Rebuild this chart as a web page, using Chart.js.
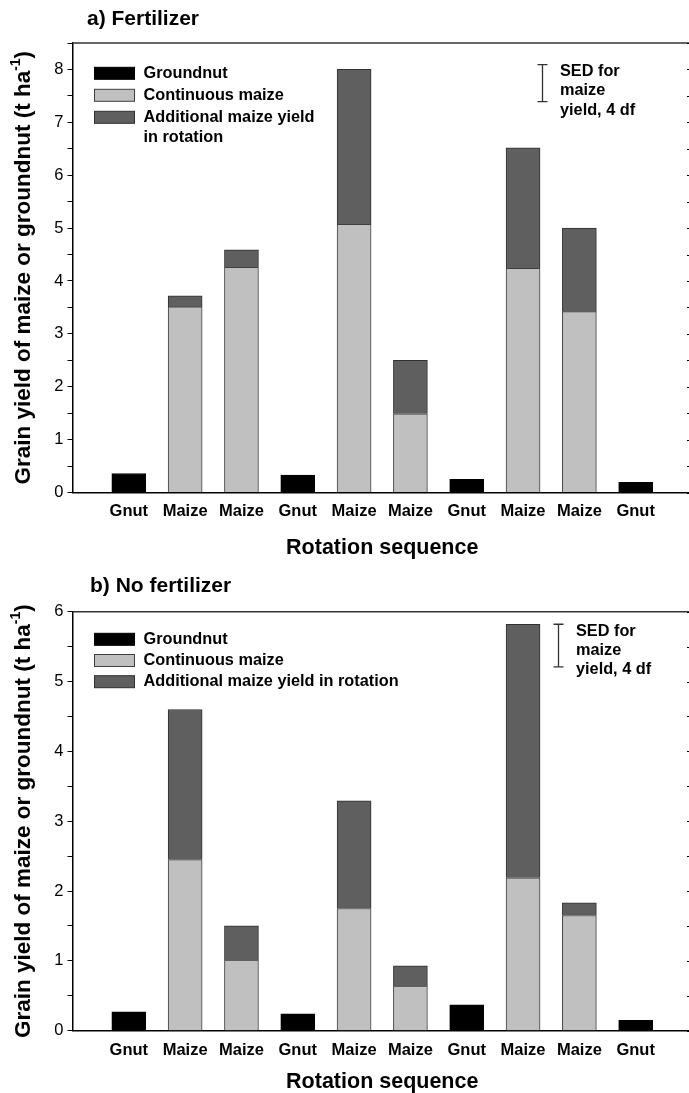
<!DOCTYPE html>
<html>
<head>
<meta charset="utf-8">
<title>Grain yield of maize or groundnut – rotation sequence</title>
<script src="https://cdn.jsdelivr.net/npm/chart.js@4.4.1/dist/chart.umd.min.js"></script>
<style>
  html, body { margin: 0; padding: 0; background: #fff; overflow: hidden; }
  #page { position: relative; width: 689px; height: 1093px; overflow: hidden; }
  canvas { position: absolute; left: 0; display: block; }
  #chartA { top: 0; }
  #chartB { top: 565px; }
</style>
</head>
<body>
<div id="page">
  <canvas id="chartA" width="695" height="565"></canvas>
  <canvas id="chartB" width="695" height="528"></canvas>
</div>
<script>
// Rotation sequence (x axis), one bar per season
const sequence = ['Gnut', 'Maize', 'Maize', 'Gnut', 'Maize', 'Maize', 'Gnut', 'Maize', 'Maize', 'Gnut'];
const legendLabels = ['Groundnut', 'Continuous maize', 'Additional maize yield in rotation'];
const sedLines = ['SED for', 'maize', 'yield, 4 df'];

// a) Fertilizer – grain yield, t ha-1
const fertGroundnut  = [0.36, null, null, 0.33, null, null, 0.25, null, null, 0.19];
const fertContinuous = [null, 3.51, 4.26, null, 5.07, 1.49, null, 4.24, 3.42, null];
const fertAdditional = [null, 0.21, 0.33, null, 2.93, 1.01, null, 2.28, 1.58, null];
const fertSED = 0.70;

// b) No fertilizer – grain yield, t ha-1
const noFertGroundnut  = [0.27, null, null, 0.24, null, null, 0.37, null, null, 0.15];
const noFertContinuous = [null, 2.45, 1.01, null, 1.75, 0.64, null, 2.19, 1.65, null];
const noFertAdditional = [null, 2.15, 0.49, null, 1.54, 0.29, null, 3.63, 0.18, null];
const noFertSED = 0.61;

const FONT = "'Liberation Sans', Arial, Helvetica, sans-serif";
Chart.defaults.font.family = FONT;
Chart.defaults.color = '#000';

function wrapText(ctx, text, maxWidth) {
  const words = text.split(' ');
  const lines = [];
  let cur = '';
  words.forEach(w => {
    const test = cur ? cur + ' ' + w : w;
    if (ctx.measureText(test).width > maxWidth && cur) { lines.push(cur); cur = w; }
    else cur = test;
  });
  if (cur) lines.push(cur);
  return lines;
}

// frame, right ticks, panel title, legend, SED bar and y title
const panelDeco = {
  id: 'panelDeco',
  afterDraw(chart, args, o) {
    const { ctx, chartArea: a, scales: { x, y } } = chart;
    ctx.save();

    // top frame line
    ctx.strokeStyle = '#333';
    ctx.lineWidth = 1.5;
    ctx.beginPath(); ctx.moveTo(a.left, a.top); ctx.lineTo(a.right, a.top); ctx.stroke();

    // inward ticks on the right side
    ctx.strokeStyle = '#000';
    ctx.lineWidth = 1;
    y.ticks.forEach(t => {
      const py = Math.round(y.getPixelForValue(t.value)) + 0.5;
      ctx.beginPath(); ctx.moveTo(a.right - 5, py); ctx.lineTo(a.right, py); ctx.stroke();
    });

    ctx.fillStyle = '#000';
    ctx.textBaseline = 'middle';
    ctx.textAlign = 'left';

    // panel title
    ctx.font = `bold 21px ${FONT}`;
    ctx.fillText(o.title, o.titleX, o.titleY);

    // legend inside plot area
    ctx.font = `bold 16.3px ${FONT}`;
    let rowY = o.legendY;
    chart.data.datasets.forEach(ds => {
      ctx.fillStyle = ds.backgroundColor;
      ctx.fillRect(94.5, rowY - 6, 40, 12);
      ctx.strokeStyle = ds.borderColor;
      ctx.lineWidth = 1;
      ctx.strokeRect(94.5, rowY - 6, 40, 12);
      ctx.fillStyle = '#000';
      const lines = wrapText(ctx, ds.label, o.legendWrap);
      lines.forEach((ln, i) => ctx.fillText(ln, 143.5, rowY + i * 20));
      rowY += o.legendStep + (lines.length - 1) * 20;
    });

    // SED bar
    const sx = Math.round(x.getPixelForValue(o.sedX)) + 0.5;
    const yTop = y.getPixelForValue(o.sedTop);
    const yBot = y.getPixelForValue(o.sedTop - o.sed);
    ctx.strokeStyle = '#333';
    ctx.lineWidth = 1.3;
    ctx.beginPath();
    ctx.moveTo(sx, yTop); ctx.lineTo(sx, yBot);
    ctx.moveTo(sx - 5, yTop); ctx.lineTo(sx + 5, yTop);
    ctx.moveTo(sx - 5, yBot); ctx.lineTo(sx + 5, yBot);
    ctx.stroke();
    ctx.font = `bold 16.3px ${FONT}`;
    sedLines.forEach((ln, i) => ctx.fillText(ln, sx + 17.5, yTop + 7 + i * 19.3));

    // rotated y axis title with superscript
    const main = 'Grain yield of maize or groundnut (t ha';
    const sup = '-1';
    const tail = ')';
    ctx.font = `bold 22.5px ${FONT}`;
    const w1 = ctx.measureText(main).width;
    const w3 = ctx.measureText(tail).width;
    ctx.font = `bold 14px ${FONT}`;
    const w2 = ctx.measureText(sup).width;
    const total = w1 + w2 + w3;
    ctx.translate(24, (a.top + a.bottom) / 2);
    ctx.rotate(-Math.PI / 2);
    const x0 = -total / 2;
    ctx.font = `bold 22.5px ${FONT}`;
    ctx.fillText(main, x0, 0);
    ctx.font = `bold 14px ${FONT}`;
    ctx.fillText(sup, x0 + w1, -7.5);
    ctx.font = `bold 22.5px ${FONT}`;
    ctx.fillText(tail, x0 + w1 + w2, 0);

    ctx.restore();
  }
};

function points(arr) {
  return arr.map((v, i) => ({ x: i + 1, y: v })).filter(p => p.y !== null);
}

function makeChart(id, groundnut, continuous, additional, yMax, deco) {
  return new Chart(document.getElementById(id), {
    type: 'bar',
    data: {
      datasets: [
        { label: legendLabels[0], data: points(groundnut), backgroundColor: '#000000', borderColor: '#000000' },
        { label: legendLabels[1], data: points(continuous), backgroundColor: '#c0c0c0', borderColor: '#404040' },
        { label: legendLabels[2], data: points(additional), backgroundColor: '#5f5f5f', borderColor: '#303030' }
      ]
    },
    options: {
      responsive: false,
      animation: false,
      devicePixelRatio: 1,
      datasets: { bar: { barThickness: 34, borderWidth: 1 } },
      layout: { padding: { top: deco.areaTop, right: 3, left: 0, bottom: 0 } },
      plugins: {
        legend: { display: false },
        tooltip: { enabled: false },
        panelDeco: deco
      },
      scales: {
        x: {
          type: 'linear',
          stacked: true,
          offset: false,
          min: 0,
          max: sequence.length + 1,
          afterFit: s => { s.height = deco.xAxisHeight; s.paddingLeft = 0; s.paddingRight = 0; },
          grid: { display: false, drawTicks: false, offset: false },
          border: { display: true, color: '#000', width: 1.5 },
          ticks: {
            stepSize: 1, autoSkip: false, maxRotation: 0, padding: 9.5,
            font: { size: 16.5, weight: 'bold' },
            callback: v => sequence[v - 1] || ''
          },
          title: {
            display: true, text: 'Rotation sequence',
            font: { size: 21.5, weight: 'bold', lineHeight: 1 },
            padding: { top: 0, bottom: deco.xTitlePad }
          }
        },
        y: {
          stacked: true,
          min: 0,
          max: yMax,
          afterFit: s => { s.width = 72.5; },
          grid: { display: true, drawOnChartArea: false, drawTicks: true, tickLength: 5, color: '#000', lineWidth: 1 },
          border: { display: true, color: '#000', width: 1.5 },
          ticks: {
            stepSize: 0.5, autoSkip: false, padding: 4,
            font: { size: 16.5 },
            callback: v => Number.isInteger(v) ? v : ''
          }
        }
      }
    },
    plugins: [panelDeco]
  });
}

makeChart('chartA', fertGroundnut, fertContinuous, fertAdditional, 8.5, {
  title: 'a) Fertilizer', titleX: 87, titleY: 19,
  areaTop: 43, xAxisHeight: 72.5, xTitlePad: 6,
  legendY: 73.3, legendStep: 22, legendWrap: 180,
  sedX: 8.34, sedTop: 8.09, sed: fertSED
});

makeChart('chartB', noFertGroundnut, noFertContinuous, noFertAdditional, 6, {
  title: 'b) No fertilizer', titleX: 90, titleY: 21.7,
  areaTop: 46.7, xAxisHeight: 62.3, xTitlePad: 0,
  legendY: 74.3, legendStep: 21.2, legendWrap: 400,
  sedX: 8.615, sedTop: 5.82, sed: noFertSED
});
</script>
</body>
</html>
